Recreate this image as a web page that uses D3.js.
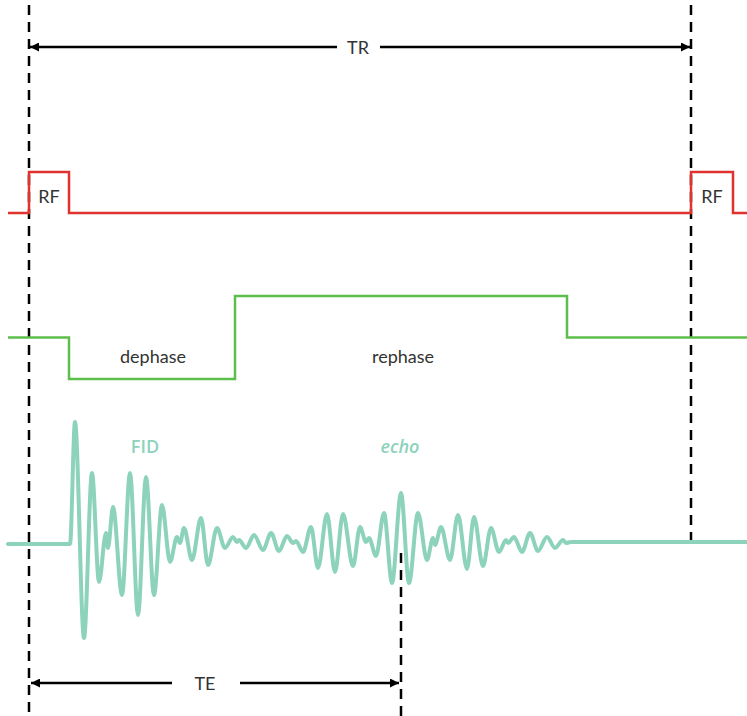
<!DOCTYPE html>
<html><head><meta charset="utf-8">
<script src="https://cdn.jsdelivr.net/npm/d3@7"></script>
<style>html,body{margin:0;padding:0;background:#fff;}</style>
</head><body>
<script>
// ---- data ----
const TR_START = 29, TR_END = 691, TE_END = 401;
const rfTime = [8, 29, 29, 69, 69, 691, 691, 733, 733, 747];
const rfLevel = [0, 0, 1, 1, 0, 0, 1, 1, 0, 0];
const gradTime = [8, 69, 69, 235, 235, 567, 567, 747];
const gradLevel = [0, 0, -1, -1, 1, 1, 0, 0];
const sigTime = [8,70,75,84,92,99,106,108,113,122,130,138,146,154,162,170,177,180,184,192,201,208,217,225,233,237,239,246,254,263,271,279,287,293,296,303,311,318,327,335,343,353,360,366,369,376,384,392,401,409,418,427,433,435,441,450,458,467,474,483,491,499,506,508,514,522,530,538,547,555,563,566,571,747];
const sigAmp  = [0,0,122,-94,71,-38,11,-4,37,-51,71,-71,67,-51,39,-18,7,1,16,-16,26,-21,16,-4,7,2,4,-4,9,-6,11,-7,8,1,3,-8,17,-24,30,-28,30,-22,17,2,6,-12,31,-39,51,-39,31,-16,6,-1,17,-16,29,-25,27,-22,16,-8,4,1,7,-8,11,-7,7,-4,4,1,2,2];
const labels = {tr: "TR", te: "TE", rf: "RF", dephase: "dephase", rephase: "rephase", fid: "FID", echo: "echo"};

const W = 747, H = 716;
const svg = d3.select("body").append("svg").attr("width", W).attr("height", H);
const x = d3.scaleLinear().domain([0, 747]).range([0, 747]);
const yRF = d3.scaleLinear().domain([0, 1]).range([213, 172]);
const yG = d3.scaleLinear().domain([-1, 1]).range([379, 296]);
const yS = d3.scaleLinear().domain([-100, 100]).range([644, 444]);

const hand = "'Segoe Print','Comic Sans MS','Lato','DejaVu Sans',sans-serif";

// markers
const defs = svg.append("defs");
function marker(id, orient) {
  defs.append("marker").attr("id", id).attr("viewBox", "0 0 10 10")
    .attr("refX", 10).attr("refY", 5).attr("markerWidth", 11).attr("markerHeight", 9)
    .attr("markerUnits", "userSpaceOnUse").attr("orient", orient)
    .append("path").attr("d", "M0,0 L10,5 L0,10 Z").attr("fill", "#000");
}
marker("arrEnd", "auto");

// dashed verticals
const dash = svg.append("g").attr("stroke", "#000").attr("stroke-width", 2.5).attr("stroke-dasharray", "10,7");
dash.append("line").attr("x1", x(TR_START)).attr("x2", x(TR_START)).attr("y1", 5).attr("y2", 716);
dash.append("line").attr("x1", x(TR_END)).attr("x2", x(TR_END)).attr("y1", 5).attr("y2", 545);
dash.append("line").attr("x1", x(TE_END)).attr("x2", x(TE_END)).attr("y1", 553).attr("y2", 716);

// arrows
const arr = svg.append("g").attr("stroke", "#000").attr("stroke-width", 2.5);
arr.append("line").attr("x1", x(337)).attr("x2", x(TR_START) + 1).attr("y1", 47).attr("y2", 47).attr("marker-end", "url(#arrEnd)");
arr.append("line").attr("x1", x(380)).attr("x2", x(TR_END) - 1).attr("y1", 47).attr("y2", 47).attr("marker-end", "url(#arrEnd)");
arr.append("line").attr("x1", x(172)).attr("x2", x(TR_START) + 2).attr("y1", 683).attr("y2", 683).attr("marker-end", "url(#arrEnd)");
arr.append("line").attr("x1", x(240)).attr("x2", x(TE_END) - 2).attr("y1", 683).attr("y2", 683).attr("marker-end", "url(#arrEnd)");

function txt(s, cx, cy, opts = {}) {
  svg.append("text").attr("x", cx).attr("y", cy).attr("text-anchor", "middle")
    .attr("dominant-baseline", "central")
    .attr("font-family", opts.family || hand).attr("font-size", opts.size || 18)
    .attr("font-weight", opts.weight || 400).attr("font-style", opts.style || "normal")
    .attr("fill", opts.fill || "#333").text(s);
}
txt(labels.tr, x(358), 47);
txt(labels.te, x(205), 683);

// RF
const lineStep = (tArr, vArr, ys) => d3.line().x((d, i) => x(tArr[i])).y((d, i) => ys(vArr[i]))(tArr);
svg.append("path").attr("d", lineStep(rfTime, rfLevel, yRF)).attr("fill", "none")
  .attr("stroke", "#e0332f").attr("stroke-width", 2.5).attr("stroke-linejoin", "miter");
txt(labels.rf, x(49), 196);
txt(labels.rf, x(712), 196);

// gradient
svg.append("path").attr("d", lineStep(gradTime, gradLevel, yG)).attr("fill", "none")
  .attr("stroke", "#5dbf4b").attr("stroke-width", 2.5);
txt(labels.dephase, x(153), 356);
txt(labels.rephase, x(403), 356);

// signal
const sigLine = d3.line().x((d, i) => x(sigTime[i])).y((d, i) => yS(sigAmp[i])).curve(d3.curveMonotoneX);
svg.append("path").attr("d", sigLine(sigTime)).attr("fill", "none")
  .attr("stroke", "#8dd3bb").attr("stroke-width", 4).attr("stroke-linejoin", "round").attr("stroke-linecap", "round");
txt(labels.fid, x(145), 446, {family: "'Open Sans',sans-serif", weight: 600, fill: "#8dd3bb", size: 18});
txt(labels.echo, x(400), 446, {family: "'Open Sans',sans-serif", weight: 600, style: "italic", fill: "#8dd3bb", size: 18});
</script>
</body></html>
